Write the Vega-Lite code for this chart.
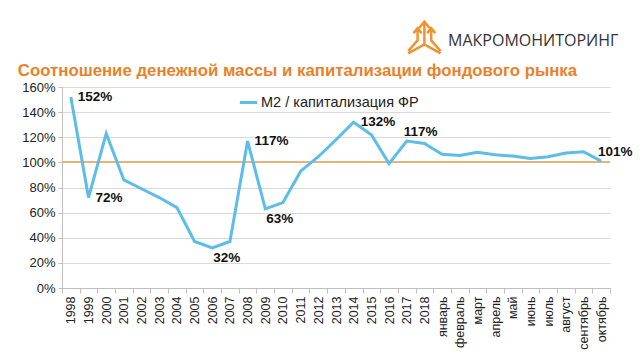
{
  "$schema": "https://vega.github.io/schema/vega-lite/v6.json",
  "autosize": {"type": "none"},
  "width": 548,
  "height": 201,
  "padding": {"left": 62, "top": 87, "right": 30, "bottom": 72},
  "background": "white",
  "config": {"view": {"stroke": null}, "font": "Liberation Sans"},
  "data": {
    "values": [
      {"period": "1998", "ratio": 1.52, "label": "152%"},
      {"period": "1999", "ratio": 0.72, "label": "72%"},
      {"period": "2000", "ratio": 1.23},
      {"period": "2001", "ratio": 0.86},
      {"period": "2002", "ratio": 0.79},
      {"period": "2003", "ratio": 0.72},
      {"period": "2004", "ratio": 0.64},
      {"period": "2005", "ratio": 0.37},
      {"period": "2006", "ratio": 0.32, "label": "32%"},
      {"period": "2007", "ratio": 0.37},
      {"period": "2008", "ratio": 1.17, "label": "117%"},
      {"period": "2009", "ratio": 0.63, "label": "63%"},
      {"period": "2010", "ratio": 0.68},
      {"period": "2011", "ratio": 0.93},
      {"period": "2012", "ratio": 1.045},
      {"period": "2013", "ratio": 1.18},
      {"period": "2014", "ratio": 1.32, "label": "132%"},
      {"period": "2015", "ratio": 1.22},
      {"period": "2016", "ratio": 0.99},
      {"period": "2017", "ratio": 1.17, "label": "117%"},
      {"period": "2018", "ratio": 1.15},
      {"period": "январь", "ratio": 1.065},
      {"period": "февраль", "ratio": 1.055},
      {"period": "март", "ratio": 1.08},
      {"period": "апрель", "ratio": 1.06},
      {"period": "май", "ratio": 1.05},
      {"period": "июнь", "ratio": 1.03},
      {"period": "июль", "ratio": 1.045},
      {"period": "август", "ratio": 1.075},
      {"period": "сентябрь", "ratio": 1.085},
      {"period": "октябрь", "ratio": 1.01, "label": "101%"}
    ]
  },
  "encoding": {
    "x": {
      "field": "period",
      "type": "ordinal",
      "sort": null,
      "bandPosition": 0.5,
      "scale": {"type": "band", "paddingInner": 0, "paddingOuter": 0},
      "axis": {
        "title": null,
        "labelAngle": -90,
        "labelFontSize": 12.5,
        "labelColor": "#222",
        "labelFont": "Liberation Sans",
        "tickBand": "extent",
        "tickColor": "#bfbfbf",
        "tickSize": 5,
        "domainColor": "#bfbfbf",
        "labelPadding": 3,
        "grid": false
      }
    },
    "y": {
      "field": "ratio",
      "type": "quantitative",
      "scale": {"domain": [0, 1.6], "nice": false},
      "axis": {
        "title": null,
        "format": ".0%",
        "values": [0, 0.2, 0.4, 0.6, 0.8, 1.0, 1.2, 1.4, 1.6],
        "labelFontSize": 13,
        "labelColor": "#222",
        "labelFont": "Liberation Sans",
        "gridColor": "#d9d9d9",
        "tickColor": "#bfbfbf",
        "tickSize": 4,
        "domainColor": "#bfbfbf",
        "labelPadding": 3
      }
    }
  },
  "layer": [
    {
      "mark": {"type": "rule", "color": "#E3B07F", "strokeWidth": 1},
      "encoding": {"y": {"datum": 1.0}, "x": {}}
    },
    {
      "mark": {"type": "line", "strokeWidth": 3, "strokeJoin": "miter"},
      "encoding": {
        "color": {
          "datum": "M2 / капитализация ФР",
          "scale": {"range": ["#5BBDE8"]},
          "legend": {
            "title": null,
            "orient": "none",
            "legendX": 176,
            "legendY": 5,
            "symbolType": "stroke",
            "symbolStrokeWidth": 3,
            "symbolSize": 300,
            "labelFontSize": 14.5,
            "labelFont": "Liberation Sans",
            "labelColor": "#222",
            "labelOffset": 2
          }
        }
      }
    },
    {
      "transform": [{"filter": {"field": "period", "oneOf": ["1998", "1999", "2008", "2014"]}}],
      "mark": {"type": "text", "align": "left", "baseline": "middle", "dx": 7, "dy": 0, "fontSize": 13.5, "fontWeight": "bold", "color": "#111"},
      "encoding": {"text": {"field": "label"}}
    },
    {
      "transform": [{"filter": {"field": "period", "oneOf": ["2006", "2009"]}}],
      "mark": {"type": "text", "align": "left", "baseline": "middle", "dx": 1, "dy": 10, "fontSize": 13.5, "fontWeight": "bold", "color": "#111"},
      "encoding": {"text": {"field": "label"}}
    },
    {
      "transform": [{"filter": {"field": "period", "oneOf": ["2017", "октябрь"]}}],
      "mark": {"type": "text", "align": "center", "baseline": "middle", "dx": 14, "dy": -9, "fontSize": 13.5, "fontWeight": "bold", "color": "#111"},
      "encoding": {"text": {"field": "label"}}
    },
    {
      "data": {"values": [{"brand": "МАКРОМОНИТОРИНГ", "anchor": "январь", "level": 1.97}]},
      "mark": {"type": "text", "align": "left", "baseline": "middle", "dx": 6, "font": "Open Sans", "fontSize": 16, "color": "#333"},
      "encoding": {
        "x": {"field": "anchor", "type": "ordinal"},
        "y": {"field": "level", "type": "quantitative"},
        "text": {"field": "brand", "type": "nominal"}
      }
    },
    {
      "data": {"values": [{"anchor": "2018", "level": 1.99}]},
      "mark": {
        "type": "point",
        "shape": "M0,0.35 L0,-1 M-0.32,-0.62 L0,-1 L0.32,-0.62 M-1,0.95 L0,0.4 L1,0.95 M-0.42,-0.55 L-0.42,0.15 L-1,0.8 M0.42,-0.55 L0.42,0.15 L1,0.8 M-0.67,-0.3 L-0.42,-0.6 L-0.17,-0.3 M0.17,-0.3 L0.42,-0.6 L0.67,-0.3",
        "size": 1050,
        "filled": false,
        "dx": -4,
        "stroke": "#F0922E",
        "strokeWidth": 2.5,
        "opacity": 1
      },
      "encoding": {
        "x": {"field": "anchor", "type": "ordinal"},
        "y": {"field": "level", "type": "quantitative"}
      }
    },
    {
      "data": {"values": [{"heading": "Соотношение денежной массы и капитализации фондового рынка", "anchor": "1998", "level": 1.73}]},
      "mark": {"type": "text", "align": "left", "baseline": "middle", "dx": -53, "font": "Liberation Sans", "fontSize": 16.8, "fontWeight": "bold", "color": "#E8822A"},
      "encoding": {
        "x": {"field": "anchor", "type": "ordinal"},
        "y": {"field": "level", "type": "quantitative"},
        "text": {"field": "heading", "type": "nominal"}
      }
    }
  ]
}
